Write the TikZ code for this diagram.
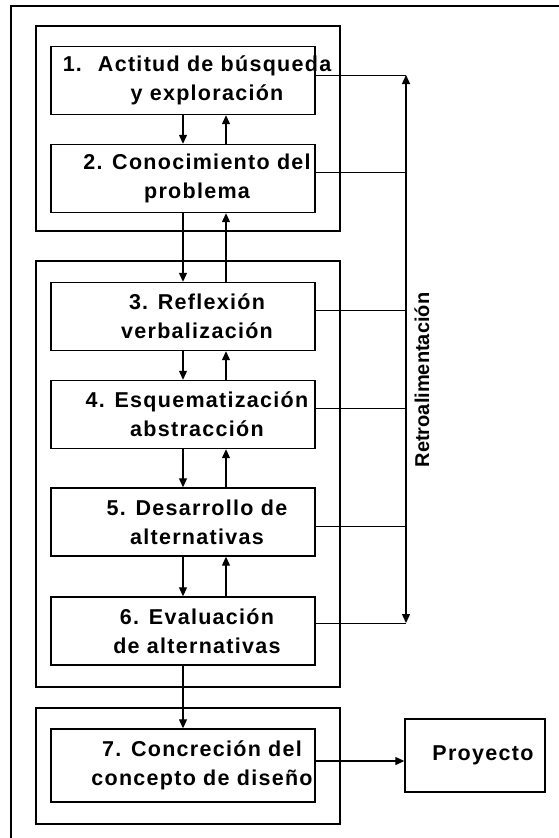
\documentclass[tikz,border=0pt]{standalone}
\usepackage{fontspec}
\setmainfont{Liberation Sans}
\newfontfamily\stepfont[LetterSpace=6]{Liberation Sans Bold}
\usetikzlibrary{arrows.meta}
\tikzset{
  stepbox/.style={draw, line width=1.4pt, minimum width=264pt, minimum height=68pt, inner sep=0pt},
  steptext/.style={font=\fontsize{21.5}{29}\selectfont\stepfont, align=center, xshift=14pt},
  groupbox/.style={draw, line width=1.2pt},
  flow/.style={line width=1.2pt, -{Triangle[length=9pt,width=8pt]}},
  feed/.style={line width=1pt}
}
\begin{document}
\begin{tikzpicture}[x=1pt, y=-1pt]
  \useasboundingbox (0,0) rectangle (559,838);
  % frame and groups
  \draw[line width=1.2pt] (559,6) -- (11,6) -- (11,838);
  \draw[groupbox] (36,26) rectangle (340,231);
  \draw[groupbox] (36,261) rectangle (340,687);
  \draw[groupbox] (36,708) rectangle (340,824);

  \node[stepbox, label={[steptext]center:{1.\hspace{16pt}Actitud de búsqueda\\ \hspace{20pt}y exploración}}] (s1) at (183,80.5) {};
  \node[stepbox, label={[steptext]center:{2. Conocimiento del\\ problema}}] (s2) at (183,178.5) {};
  \node[stepbox, label={[steptext]center:{3. Reflexión\\ verbalización}}] (s3) at (183,316.5) {};
  \node[stepbox, label={[steptext]center:{4. Esquematización\\ abstracción}}] (s4) at (183,414.5) {};
  \node[stepbox, label={[steptext]center:{5. Desarrollo de\\ alternativas}}] (s5) at (183,522) {};
  \node[stepbox, label={[steptext]center:{6. Evaluación\\ de alternativas}}] (s6) at (183,631) {};
  \node[stepbox, minimum height=73pt, label={[steptext, xshift=5pt]center:{7. Concreción del\\ concepto de diseño}}] (s7) at (183,765.5) {};
  \node[stepbox, minimum width=140pt, minimum height=73pt, label={[steptext, xshift=-6pt]center:{Proyecto}}] (proj) at (475,755.5) {};

  \node[font=\fontsize{20}{24}\selectfont\bfseries, rotate=90] (retro) at (422,380) {Retroalimentación};

  % forward and back arrows
  \foreach \a/\b in {s1/s2, s2/s3, s3/s4, s4/s5, s5/s6} {
    \draw[flow] (\a.south) -- (\b.north);
    \draw[flow] ([xshift=43pt]\b.north) -- ([xshift=43pt]\a.south);
  }
  \draw[flow] (s6.south) -- (s7.north);
  \draw[flow] ([yshift=4.5pt]s7.east) -- ([yshift=4.5pt]s7.east -| proj.west);

  % feedback
  \coordinate (fbtop) at (406,75);
  \coordinate (fbbot) at (406,623);
  \draw[line width=1.3pt, {Triangle[length=9pt,width=8pt]}-{Triangle[length=9pt,width=8pt]}] (fbbot) -- (fbtop);
  \draw[feed] (s1.east |- fbtop) -- (fbtop);
  \draw[feed] ([yshift=6.5pt]s2.east) -- ([yshift=6.5pt]s2.east -| fbtop);
  \draw[feed] ([yshift=6.5pt]s3.east) -- ([yshift=6.5pt]s3.east -| fbtop);
  \draw[feed] ([yshift=6.5pt]s4.east) -- ([yshift=6.5pt]s4.east -| fbtop);
  \draw[feed] ([yshift=-4pt]s5.east) -- ([yshift=-4pt]s5.east -| fbtop);
  \draw[feed] (s6.east |- fbbot) -- (fbbot);
\end{tikzpicture}
\end{document}
